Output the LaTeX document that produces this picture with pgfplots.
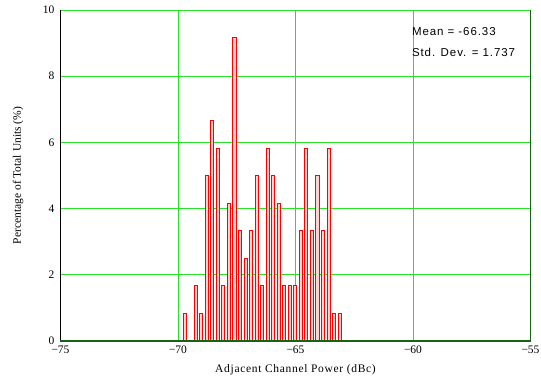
\documentclass[border=0pt]{standalone}
\usepackage{fontspec}
\setmainfont{Liberation Serif}
\newfontfamily\arialfont[LetterSpace=8]{Liberation Sans}
\newfontfamily\serifspaced[LetterSpace=6]{Liberation Serif}
\usepackage{pgfplots}
\pgfplotsset{compat=1.18}
\definecolor{gridgreen}{RGB}{40,225,40}
\definecolor{darkgreen}{RGB}{20,100,20}
\begin{document}
\begin{tikzpicture}
\useasboundingbox (-60.5pt,-36pt) rectangle (480.5pt,341pt);
\begin{axis}[
  at={(0pt,0pt)}, anchor=south west,
  scale only axis, width=470pt, height=331pt,
  xmin=-75, xmax=-55, ymin=0, ymax=10,
  xtick={-75,-70,-65,-60,-55},
  xticklabels={−75,−70,−65,−60,−55},
  ytick={0,2,4,6,8,10},
  yticklabels={0,2,4,6,8,10},
  major tick length=0pt,
  grid=major,
  major grid style={draw=gridgreen, line width=0.9pt},
  axis line style={draw=none},
  tick label style={font=\fontsize{11.5}{13}\selectfont},
  yticklabel style={xshift=-2.5pt},
  xticklabel style={yshift=-1pt},
  xlabel={Adjacent Channel Power (dBc)},
  ylabel={Percentage of Total Units (\%)},
  xlabel style={font=\fontsize{11.5}{13}\serifspaced, at={(axis description cs:0.5,0)}, anchor=center, yshift=-29pt},
  ylabel style={font=\fontsize{11.5}{13}\selectfont, at={(axis description cs:0,0.5)}, anchor=center, yshift=42.5pt},
  clip=false,
]
\addplot[ybar, bar width=0.13, draw=red, fill=red!18, line width=0.8pt] coordinates {
(-69.720,0.833)
(-69.249,1.667)
(-69.013,0.833)
(-68.778,5.000)
(-68.542,6.667)
(-68.307,5.833)
(-68.071,1.667)
(-67.836,4.167)
(-67.600,9.167)
(-67.365,3.333)
(-67.129,2.500)
(-66.894,3.333)
(-66.658,5.000)
(-66.423,1.667)
(-66.187,5.833)
(-65.952,5.000)
(-65.716,4.167)
(-65.481,1.667)
(-65.245,1.667)
(-65.030,1.667)
(-64.774,3.333)
(-64.539,5.833)
(-64.303,3.333)
(-64.068,5.000)
(-63.833,3.333)
(-63.597,5.833)
(-63.362,0.833)
(-63.126,0.833)
};
\draw[black, line width=1pt] (rel axis cs:0,0) -- (rel axis cs:0,1);
\draw[darkgreen, line width=1.2pt] (rel axis cs:0,0) -- (rel axis cs:1,0) -- (rel axis cs:1,1);
\node[anchor=base west, inner sep=0pt, font=\fontsize{11.5}{13}\arialfont] at (axis cs:-60.05,9.22) {Mean = -66.33};
\node[anchor=base west, inner sep=0pt, font=\fontsize{11.5}{13}\arialfont] at (axis cs:-60.05,8.59) {Std. Dev. = 1.737};
\end{axis}
\end{tikzpicture}
\end{document}
